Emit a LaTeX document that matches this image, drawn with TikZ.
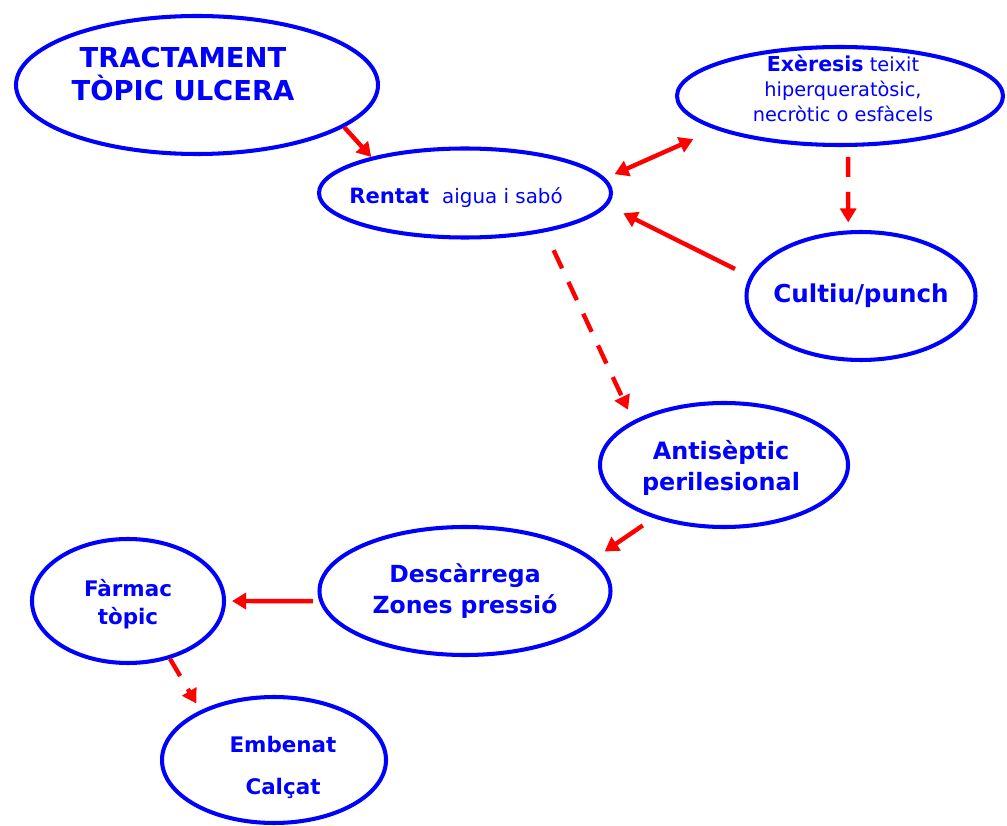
\documentclass[tikz,border=0pt]{standalone}
\usepackage{fontspec}
\setmainfont{DejaVu Sans}
\usetikzlibrary{shapes.geometric,arrows.meta}
\definecolor{mapblue}{RGB}{0,0,255}
\definecolor{mapred}{RGB}{255,0,0}
\tikzset{
	bubble/.style={ellipse, draw=mapblue, line width=2.3pt, inner sep=0pt},
	words/.style={text=mapblue, align=center, inner sep=0pt},
	link/.style={draw=mapred, line width=2.5pt, -{Triangle[length=0.28cm,width=0.32cm]}},
	dashlink/.style={link, dash pattern=on 0.4cm off 0.3cm},
	bothlink/.style={link, {Triangle[length=0.28cm,width=0.32cm]}-{Triangle[length=0.28cm,width=0.32cm]}}
}

\begin{document}
\begin{tikzpicture}
			%%%%% START %%%%%
			
			\useasboundingbox (0, 0) rectangle (20.14, 16.5);
			
			\node[bubble, minimum width=7.24cm, minimum height=2.76cm, label={[words, xshift=-0.28cm, yshift=0.22cm, font={\fontsize{15.6}{19.3}\selectfont\bfseries}]center:{TRACTAMENT\\TÒPIC ULCERA}}] (tractament) at (3.94, 14.8) {};
			
			\node[bubble, minimum width=5.84cm, minimum height=1.78cm, label={[words, xshift=-0.18cm, yshift=-0.1cm, font={\fontsize{11.3}{14}\selectfont}]center:{{\fontsize{12}{14}\selectfont\bfseries Rentat}\hspace{0.26cm}aigua i sabó}}] (rentat) at (9.3, 12.64) {};
			
			\node[bubble, minimum width=6.52cm, minimum height=1.96cm, label={[words, xshift=0.06cm, yshift=0.16cm, font={\fontsize{11}{14.2}\selectfont}]center:{{\fontsize{11.7}{14.2}\selectfont\bfseries Exèresis} teixit\\hiperqueratòsic,\\necròtic o esfàcels}}] (exeresis) at (16.8, 14.58) {};
			
			\node[bubble, minimum width=4.58cm, minimum height=2.56cm, label={[words, font={\fontsize{14}{17}\selectfont\bfseries}]center:{Cultiu/punch}}] (cultiu) at (17.22, 10.58) {};
			
			\node[bubble, minimum width=4.96cm, minimum height=2.48cm, label={[words, xshift=-0.06cm, yshift=-0.05cm, font={\fontsize{13.6}{17.6}\selectfont\bfseries}]center:{Antisèptic\\perilesional}}] (antiseptic) at (14.48, 7.2) {};
			
			\node[bubble, minimum width=5.82cm, minimum height=2.56cm, label={[words, font={\fontsize{13.4}{17.6}\selectfont\bfseries}]center:{Descàrrega\\Zones pressió}}] (descarrega) at (9.3, 4.68) {};
			
			\node[bubble, minimum width=3.84cm, minimum height=2.48cm, label={[words, yshift=-0.06cm, font={\fontsize{12.2}{16}\selectfont\bfseries}]center:{Fàrmac\\tòpic}}] (farmac) at (2.56, 4.48) {};
			
			\node[bubble, minimum width=4.48cm, minimum height=2.52cm, label={[words, xshift=0.18cm, yshift=-0.14cm, font={\fontsize{12.2}{23.9}\selectfont\bfseries}]center:{Embenat\\Calçat}}] (embenat) at (5.48, 1.3) {};
			
			\draw[link] (tractament.-16) -- (rentat.159);
			\draw[bothlink, shorten <=0.2cm, shorten >=0.48cm] (rentat.6) -- (exeresis.195);
			\draw[dashlink, shorten <=0.2cm, shorten >=0.16cm] (exeresis.-81) -- (cultiu.101);
			\draw[link, shorten <=0.33cm, shorten >=0.35cm] (cultiu.170) -- (rentat.-5);
			\draw[dashlink, shorten <=0.4cm, shorten >=0.24cm] (rentat.-26) -- (antiseptic.154);
			\draw[link, shorten <=0.26cm, shorten >=0.26cm] (antiseptic.217) -- (descarrega.14);
			\draw[link, shorten <=0.13cm, shorten >=0.12cm] (descarrega.184) -- (farmac.0);
			\draw[dashlink, shorten >=0.16cm] (farmac.-54) -- (embenat.146);
			
			%%%%% END %%%%%
\end{tikzpicture}
\end{document}
